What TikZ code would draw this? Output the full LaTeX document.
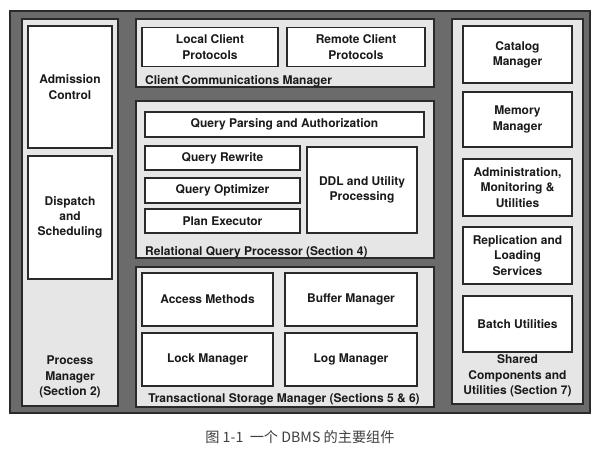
\documentclass[tikz,border=0pt]{standalone}
\usepackage{fontspec}
\setmainfont{TeX Gyre Heros}
\newfontfamily\cjkfont{Noto Sans CJK SC}
\definecolor{outerfill}{HTML}{6B6B6B}
\definecolor{panelfill}{HTML}{E6E6E6}
\definecolor{edgecol}{HTML}{2A2A2A}
\definecolor{txtcol}{HTML}{1A1A1A}
\definecolor{capcol}{HTML}{404040}
\tikzset{
  outerbox/.style={draw=edgecol, line width=1.2pt, fill=outerfill, inner sep=0pt, outer sep=0pt},
  panel/.style={draw=edgecol, line width=1.1pt, fill=panelfill, inner sep=0pt, outer sep=0pt},
  wbox/.style={draw=edgecol, line width=1.1pt, fill=white, inner sep=0pt, outer sep=0pt, align=center, text=txtcol,
    font=\bfseries\fontsize{12}{15.2}\selectfont},
  lbl/.style={inner sep=0pt, align=center, text=txtcol, font=\bfseries\fontsize{12}{15.3}\selectfont},
}
\begin{document}
\begin{tikzpicture}[x=1pt,y=-1pt]
\useasboundingbox (0,0) rectangle (608,461);
\fill[white] (0,0) rectangle (608,461);
% outer frame
\node[outerbox, minimum width=580pt, minimum height=402pt] (outer) at (300,212) {};
% process manager
\node[panel, minimum width=96pt, minimum height=387pt] (pm) at (70,212.5) {};
\node[wbox, minimum width=84pt, minimum height=122pt] (adm) at (70,87) {Admission\\Control};
\node[wbox, minimum width=84pt, minimum height=123pt] (disp) at (70,217.5) {Dispatch\\and\\Scheduling};
\node[lbl] (pmlbl) at (70,377) {Process\\Manager\\(Section 2)};
% client communications manager
\node[panel, minimum width=298pt, minimum height=68pt] (ccm) at (285,53) {};
\node[wbox, minimum width=136pt, minimum height=39pt] (lcp) at (210,47) {Local Client\\Protocols};
\node[wbox, minimum width=138pt, minimum height=39pt] (rcp) at (356,47) {Remote Client\\Protocols};
\node[lbl, anchor=base west] (ccmlbl) at (145,84) {Client Communications Manager};
% relational query processor
\node[panel, minimum width=298pt, minimum height=157pt] (rqp) at (285,179.5) {};
\node[wbox, minimum width=279pt, minimum height=25pt] (qpa) at (284.5,124.5) {Query Parsing and Authorization};
\node[wbox, minimum width=155pt, minimum height=24pt] (qrw) at (222.5,158) {Query Rewrite};
\node[wbox, minimum width=155pt, minimum height=25pt] (qopt) at (222.5,190.5) {Query Optimizer};
\node[wbox, minimum width=155pt, minimum height=24pt] (pex) at (222.5,221) {Plan Executor};
\node[wbox, minimum width=110pt, minimum height=86pt] (ddl) at (362,190) {DDL and Utility\\Processing};
\node[lbl, anchor=base west] (rqplbl) at (145,255) {Relational Query Processor (Section 4)};
% transactional storage manager
\node[panel, minimum width=298pt, minimum height=140pt] (tsm) at (285,337) {};
\node[wbox, minimum width=131pt, minimum height=53pt] (acc) at (207.5,299.5) {Access Methods};
\node[wbox, minimum width=132pt, minimum height=53pt] (buf) at (351,299.5) {Buffer Manager};
\node[wbox, minimum width=131pt, minimum height=53pt] (lock) at (207.5,359.5) {Lock Manager};
\node[wbox, minimum width=132pt, minimum height=53pt] (log) at (351,359.5) {Log Manager};
\node[lbl, anchor=base] (tsmlbl) at (284,402) {Transactional Storage Manager (Sections 5 \& 6)};
% shared components
\node[panel, minimum width=131pt, minimum height=385pt] (shc) at (517.5,211.5) {};
\node[wbox, minimum width=109pt, minimum height=57pt] (cat) at (517.5,54.5) {Catalog\\Manager};
\node[wbox, minimum width=109pt, minimum height=55pt] (mem) at (517.5,119.5) {Memory\\Manager};
\node[wbox, minimum width=109pt, minimum height=57pt] (admu) at (517.5,187.5) {Administration,\\Monitoring \&\\Utilities};
\node[wbox, minimum width=109pt, minimum height=57pt] (rep) at (517.5,255.5) {Replication and\\Loading\\Services};
\node[wbox, minimum width=109pt, minimum height=56pt] (bat) at (517.5,324) {Batch Utilities};
\node[lbl] (shclbl) at (517.5,376) {Shared\\Components and\\Utilities (Section 7)};
% caption
\node[inner sep=0pt, text=capcol, font=\cjkfont\fontsize{14.2}{16}\selectfont] (cap) at (300,437) {图 1-1\ \ 一个 DBMS 的主要组件};
\end{tikzpicture}
\end{document}
